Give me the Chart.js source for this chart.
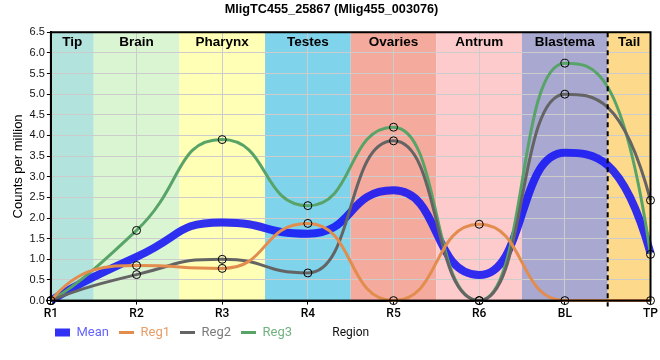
<!DOCTYPE html>
<html>
<head>
<meta charset="utf-8">
<script src="https://cdn.jsdelivr.net/npm/chart.js@4.4.1/dist/chart.umd.min.js"></script>
<style>
  html, body { margin: 0; padding: 0; background: #fff; }
  #wrap { width: 660px; height: 360px; }
</style>
</head>
<body>
<div id="wrap"><canvas id="c" width="660" height="360"></canvas></div>
<script>
// ---- data ----
const categories = ['R1', 'R2', 'R3', 'R4', 'R5', 'R6', 'BL', 'TP'];
const meanValues = [0, 1.06, 1.89, 1.62, 2.67, 0.62, 3.58, 1.15];
const reg1Values = [0, 0.85, 0.78, 1.87, 0, 1.85, 0, 0];
const reg2Values = [0, 0.63, 1.0, 0.67, 3.87, 0, 5.0, 2.43];
const reg3Values = [0, 1.7, 3.9, 2.3, 4.2, 0, 5.75, 1.12];

const bandNames = ['Tip', 'Brain', 'Pharynx', 'Testes', 'Ovaries', 'Antrum', 'Blastema', 'Tail'];
const bandStart = [0, 0.5, 1.5, 2.5, 3.5, 4.5, 5.5, 6.5];
const bandEnd   = [0.5, 1.5, 2.5, 3.5, 4.5, 5.5, 6.5, 7];
const bandColors = ['#b3e3dd', '#d9f5d1', '#ffffb5', '#7fd4ec', '#f4ab9d', '#fdcbcb', '#a8a8d0', '#fdda8b'];
const dashedAt = 6.5;

const chartTitle = 'MligTC455_25867 (Mlig455_003076)';
const yTitle = 'Counts per million';
const xTitle = 'Region';

// ---- smooth curve: handles built from the library's own point positions ----
const HANDLE = 0.55;
function clampY(v, a, b) { const lo = Math.min(a, b), hi = Math.max(a, b); return Math.max(lo, Math.min(hi, v)); }
const splinePlugin = {
  id: 'customSpline',
  beforeDatasetDraw(chart, args) {
    const meta = args.meta;
    const line = meta.dataset;
    const pts = meta.data;
    const n = pts.length;
    if (!line || n < 3) return;
    line.updateControlPoints(chart.chartArea, 'x');
    const xs = pts.map(p => p.x), ys = pts.map(p => p.y);
    const d = [];
    for (let i = 0; i < n - 1; i++) d.push((ys[i + 1] - ys[i]) / (xs[i + 1] - xs[i]));
    const m = new Array(n).fill(0);
    for (let i = 1; i < n - 1; i++) {
      m[i] = (d[i - 1] * d[i] <= 0) ? 0 : (d[i - 1] + d[i]) / 2;
    }
    for (let i = 1; i < n - 2; i++) {
      if (Math.abs(d[i]) < 1e-9) { m[i] = 0; m[i + 1] = 0; continue; }
      const a = m[i] / d[i], b = m[i + 1] / d[i];
      const s = a * a + b * b;
      if (s > 9) { const t = 3 / Math.sqrt(s); m[i] = t * a * d[i]; m[i + 1] = t * b * d[i]; }
    }
    for (let i = 0; i < n - 1; i++) {
      const dx = xs[i + 1] - xs[i];
      let c1x, c1y, c2x, c2y;
      if (i === 0) {
        c2x = xs[1] - dx / 3; c2y = ys[1] - dx / 3 * m[1];
        c1x = xs[0] + dx / 3; c1y = ys[1] - 2 * dx / 3 * m[1];
      } else if (i === n - 2) {
        c1x = xs[i] + dx / 3; c1y = ys[i] + dx / 3 * m[i];
        c2x = xs[i + 1] - dx / 3; c2y = ys[i] + 2 * dx / 3 * m[i];
      } else {
        c1x = xs[i] + HANDLE * dx; c1y = ys[i] + HANDLE * dx * m[i];
        c2x = xs[i + 1] - HANDLE * dx; c2y = ys[i + 1] - HANDLE * dx * m[i + 1];
      }
      pts[i].cp2x = c1x; pts[i].cp2y = clampY(c1y, ys[i], ys[i + 1]);
      pts[i + 1].cp1x = c2x; pts[i + 1].cp1y = clampY(c2y, ys[i], ys[i + 1]);
    }
  }
};

const bandsPlugin = {
  id: 'bands',
  afterLayout(chart) {
    const lg = chart.legend;
    if (lg) {
      const dy = -7, dx = 34;
      lg.top += dy; lg.bottom += dy;
      lg.left += dx; lg.right += dx;
    }
  },
  beforeDraw(chart) {
    const { ctx, chartArea: a, scales: { x } } = chart;
    ctx.save();
    for (let i = 0; i < bandNames.length; i++) {
      const x0 = x.getPixelForValue(bandStart[i]);
      const x1 = x.getPixelForValue(bandEnd[i]);
      ctx.fillStyle = bandColors[i];
      ctx.fillRect(x0, a.top, x1 - x0, a.bottom - a.top);
    }
    ctx.restore();
  },
  afterDatasetsDraw(chart) {
    const { ctx, chartArea: a, scales: { x } } = chart;
    ctx.save();
    ctx.font = 'bold 13.5px "Liberation Sans", Arial, sans-serif';
    ctx.fillStyle = '#000';
    ctx.textAlign = 'center';
    ctx.textBaseline = 'middle';
    for (let i = 0; i < bandNames.length; i++) {
      const x0 = x.getPixelForValue(bandStart[i]);
      const x1 = x.getPixelForValue(bandEnd[i]);
      ctx.fillText(bandNames[i], (x0 + x1) / 2, a.top + 10);
    }
    const xd = x.getPixelForValue(dashedAt);
    ctx.strokeStyle = '#000';
    ctx.lineWidth = 2;
    ctx.setLineDash([5, 4]);
    ctx.beginPath();
    ctx.moveTo(xd, a.top);
    ctx.lineTo(xd, a.bottom + 6);
    ctx.stroke();
    ctx.setLineDash([]);
    ctx.lineWidth = 2;
    ctx.strokeRect(a.left, a.top, a.right - a.left, a.bottom - a.top);
    ctx.restore();
  },
  afterDraw(chart) {
    const { ctx, chartArea: a, legend } = chart;
    ctx.save();
    ctx.font = '12px Roboto, sans-serif';
    ctx.fillStyle = '#111';
    ctx.textAlign = 'center';
    ctx.textBaseline = 'middle';
    const y = legend.top + 10 + 6.5;
    ctx.fillText(xTitle, (a.left + a.right) / 2, y);
    ctx.restore();
  }
};

function regDataset(label, data, color, textColor) {
  return {
    label, data,
    borderColor: color,
    backgroundColor: color,
    legendText: textColor,
    borderWidth: 3,
    cubicInterpolationMode: 'monotone',
    pointRadius: 4,
    pointHoverRadius: 4,
    pointBackgroundColor: 'rgba(0,0,0,0)',
    pointBorderColor: '#000',
    pointBorderWidth: 1,
    clip: 6,
    order: 1
  };
}

new Chart(document.getElementById('c'), {
  type: 'line',
  data: {
    labels: categories,
    datasets: [
      {
        label: 'Mean', data: meanValues,
        borderColor: 'rgba(20,20,245,0.88)',
        backgroundColor: 'rgba(20,20,245,0.88)',
        legendText: 'rgba(70,70,255,0.85)',
        borderWidth: 8,
        cubicInterpolationMode: 'monotone',
        pointRadius: 0,
        clip: 6,
        order: 2
      },
      regDataset('Reg1', reg1Values, 'rgb(226,140,78)', 'rgba(226,140,78,0.85)'),
      regDataset('Reg2', reg2Values, 'rgb(100,100,100)', 'rgba(100,100,100,0.85)'),
      regDataset('Reg3', reg3Values, 'rgb(88,164,104)', 'rgba(88,164,104,0.85)')
    ]
  },
  options: {
    responsive: false,
    animation: false,
    devicePixelRatio: 1,
    layout: { padding: { left: 11, right: 8, top: 0, bottom: 4 } },
    plugins: {
      title: {
        display: true, text: chartTitle,
        font: { family: '"Liberation Sans", Arial, sans-serif', size: 12.7, weight: 'bold' },
        color: '#000',
        padding: { top: 2, bottom: 15 }
      },
      legend: {
        position: 'bottom', align: 'start',
        labels: {
          usePointStyle: true,
          boxWidth: 15, boxHeight: 8, pointStyleWidth: 15,
          padding: 10,
          font: { family: 'Roboto, sans-serif', size: 13 },
          generateLabels(chart) {
            return chart.data.datasets.map((ds, i) => ({
              text: ds.label,
              fillStyle: ds.borderColor,
              strokeStyle: ds.borderColor,
              lineWidth: ds.borderWidth,
              pointStyle: 'line',
              fontColor: ds.legendText,
              hidden: false,
              datasetIndex: i
            }));
          }
        }
      },
      tooltip: { enabled: false }
    },
    scales: {
      x: {
        type: 'category',
        offset: false,
        grid: { color: '#cccccc', lineWidth: 1, drawTicks: true, tickLength: 4, tickColor: '#000' },
        border: { display: true, color: '#000', width: 2 },
        ticks: {
          color: '#000', padding: 2, maxRotation: 0,
          font: { family: 'Roboto, sans-serif', size: 12, weight: '500' }
        }
      },
      y: {
        min: 0, max: 6.5,
        grid: { color: '#cccccc', lineWidth: 1, tickLength: 4, tickColor: '#000' },
        border: { display: true, color: '#000', width: 2 },
        ticks: {
          stepSize: 0.5, color: '#111', padding: 2,
          font: { family: '"Liberation Sans", Arial, sans-serif', size: 11 },
          callback: v => Number(v).toFixed(1)
        },
        title: {
          display: true, text: yTitle, color: '#000',
          font: { family: '"Liberation Sans", Arial, sans-serif', size: 13 },
          padding: { top: 0, bottom: 1 }
        }
      }
    }
  },
  plugins: [splinePlugin, bandsPlugin]
});
</script>
</body>
</html>
